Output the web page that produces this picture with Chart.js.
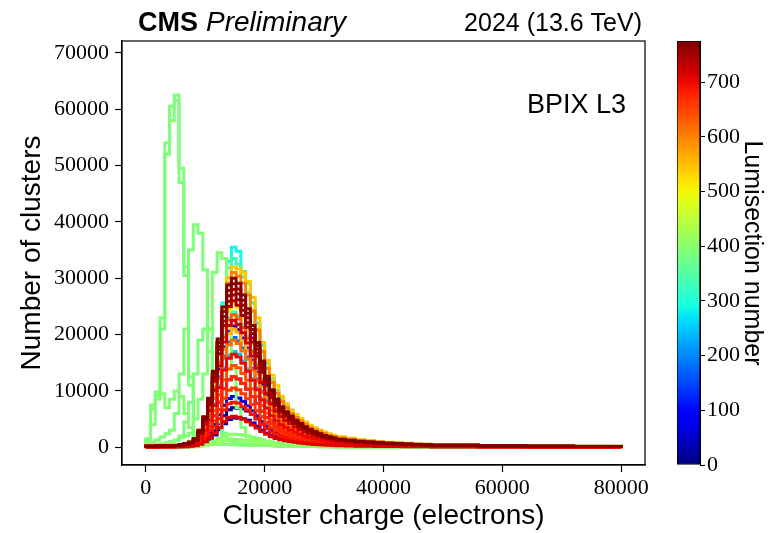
<!DOCTYPE html>
<html>
<head>
<meta charset="utf-8">
<script src="https://cdn.jsdelivr.net/npm/chart.js@4/dist/chart.umd.min.js"></script>
<style>
	html, body { margin: 0; padding: 0; background: #fff; }
	#wrap { position: relative; width: 771px; height: 533px; overflow: hidden; }
	#mainChart { position: absolute; left: 0; top: 0; width: 660px; height: 533px; }
	#cbarChart { position: absolute; left: 660px; top: 0; width: 111px; height: 533px; }
</style>
</head>
<body>
<div id="wrap">
	<canvas id="mainChart" width="660" height="533"></canvas>
	<canvas id="cbarChart" width="111" height="533"></canvas>
</div>
<script>
// bin edges of the cluster charge histograms (electrons)
const binEdges = [
	0, 800, 1600, 2400, 3200, 4000, 4800, 5600, 6400, 7200,
	8000, 8800, 9600, 10400, 11200, 12000, 12800, 13600, 14400, 15200,
	16000, 16800, 17600, 18400, 19200, 20000, 20800, 21600, 22400, 23200,
	24000, 24800, 25600, 26400, 27200, 28000, 28800, 29600, 30400, 31200,
	32000, 33600, 35200, 36800, 38400, 40000, 41600, 43200, 44800, 46400,
	48000, 56000, 64000, 72000, 80000,
];

// cluster counts per bin, one array per lumisection
const ls015 = [
	40, 40, 50, 50, 60, 60, 80, 100, 140, 210,
	340, 670, 1190, 1890, 2940, 4200, 5600, 6650, 7000, 6930,
	6790, 6440, 5810, 5040, 4060, 3360, 2800, 2380, 1960, 1680,
	1440, 1260, 1120, 980, 850, 760, 670, 600, 530, 470,
	410, 350, 300, 260, 220, 200, 180, 150, 130, 120,
	90, 60, 50, 40,
];
const ls040 = [
	30, 30, 40, 40, 40, 50, 60, 70, 100, 160,
	250, 490, 880, 1400, 2180, 3120, 4160, 4940, 5200, 5150,
	5040, 4780, 4320, 3740, 3020, 2500, 2080, 1770, 1460, 1250,
	1070, 940, 830, 730, 630, 560, 490, 440, 390, 350,
	300, 260, 220, 190, 170, 150, 130, 110, 100, 90,
	70, 50, 40, 30,
];
const ls060 = [
	50, 50, 60, 60, 70, 80, 100, 130, 180, 270,
	450, 900, 1620, 2610, 4050, 5760, 7470, 8640, 9000, 8730,
	8100, 7380, 6480, 5580, 4590, 3780, 3060, 2570, 2160, 1890,
	1670, 1440, 1260, 1100, 950, 830, 720, 630, 560, 500,
	430, 370, 320, 280, 240, 220, 190, 170, 150, 140,
	110, 70, 50, 45,
];
const ls095 = [
	130, 130, 150, 150, 170, 190, 240, 300, 430, 650,
	1080, 2150, 3900, 6200, 9700, 13800, 17800, 20600, 21500, 20900,
	19400, 17600, 15500, 13300, 11000, 9000, 7300, 6100, 5200, 4500,
	4000, 3400, 3000, 2600, 2300, 2000, 1720, 1500, 1330, 1180,
	1030, 880, 750, 670, 580, 520, 450, 410, 370, 320,
	260, 170, 130, 110,
];
const ls140 = [
	80, 80, 90, 90, 100, 110, 140, 180, 250, 380,
	630, 1250, 2250, 3600, 5600, 8000, 10400, 12000, 12500, 12100,
	11300, 10300, 9000, 7800, 6400, 5300, 4300, 3600, 3000, 2600,
	2300, 2000, 1750, 1530, 1310, 1150, 1000, 880, 780, 690,
	600, 510, 440, 390, 340, 300, 260, 240, 210, 190,
	150, 100, 75, 60,
];
const ls180 = [
	120, 120, 140, 140, 160, 180, 210, 270, 390, 590,
	980, 1950, 3510, 5660, 8780, 12500, 16200, 18700, 19500, 18900,
	17600, 16000, 14000, 12100, 9950, 8190, 6630, 5560, 4680, 4100,
	3610, 3120, 2730, 2380, 2050, 1790, 1560, 1370, 1210, 1070,
	940, 800, 680, 600, 530, 470, 410, 370, 330, 290,
	230, 160, 120, 100,
];
const ls250 = [
	100, 100, 120, 120, 140, 150, 190, 240, 340, 510,
	850, 1700, 3100, 4900, 7700, 10900, 14100, 16300, 17000, 16500,
	15300, 13900, 12200, 10500, 8700, 7100, 5800, 4800, 4100, 3600,
	3100, 2700, 2400, 2100, 1800, 1560, 1360, 1190, 1050, 940,
	820, 700, 600, 530, 460, 410, 360, 320, 290, 260,
	200, 140, 100, 85,
];
const ls285 = [
	210, 210, 250, 250, 280, 320, 390, 500, 710, 1070,
	1780, 2800, 4300, 7500, 12400, 18500, 25600, 33000, 35500, 34800,
	31200, 29100, 25600, 22000, 18100, 14900, 12100, 10100, 8500, 7500,
	6600, 5700, 5000, 4300, 3700, 3300, 2800, 2500, 2200, 1950,
	1700, 1460, 1240, 1100, 960, 850, 750, 670, 600, 530,
	430, 280, 210, 180,
];
const ls300 = [
	140, 140, 170, 170, 190, 220, 260, 340, 480, 720,
	1200, 2400, 4320, 6960, 10800, 15400, 19900, 23000, 24000, 23300,
	21600, 19700, 17300, 14900, 12200, 10100, 8160, 6840, 5760, 5040,
	4440, 3840, 3360, 2930, 2520, 2210, 1920, 1680, 1490, 1320,
	1150, 980, 840, 740, 650, 580, 500, 460, 410, 360,
	290, 190, 140, 120,
];
const ls330 = [
	200, 200, 230, 230, 270, 300, 370, 470, 670, 1000,
	1600, 2600, 4400, 7400, 12400, 18400, 25100, 31800, 33500, 32500,
	30200, 27500, 24100, 20800, 17100, 14100, 11400, 9500, 8000, 7000,
	6200, 5400, 4700, 4100, 3500, 3100, 2700, 2350, 2100, 1840,
	1610, 1370, 1170, 1040, 900, 800, 700, 640, 570, 500,
	400, 270, 200, 170,
];
const ls386 = [
	200, 300, 400, 500, 700, 900, 1200, 2000, 4500, 8000,
	13000, 19000, 21000, 17000, 10000, 5000, 2500, 1500, 1000, 800,
	650, 550, 480, 420, 370, 330, 300, 270, 240, 210,
	190, 170, 155, 140, 130, 120, 110, 100, 90, 80,
	72, 65, 58, 52, 47, 42, 38, 34, 30, 27,
	20, 14, 10, 8,
];
const ls388 = [
	1500, 7500, 9800, 23000, 54000, 58000, 62500, 49500, 32000, 11000,
	2100, 900, 700, 600, 550, 520, 500, 480, 460, 440,
	420, 400, 380, 360, 340, 320, 300, 280, 260, 240,
	220, 200, 185, 170, 160, 150, 140, 130, 120, 110,
	100, 92, 84, 76, 68, 60, 54, 48, 42, 36,
	26, 18, 12, 9,
];
const ls389 = [
	1200, 6800, 9200, 21000, 52000, 60500, 61500, 47000, 30500, 12500,
	2600, 1000, 750, 640, 580, 540, 510, 490, 470, 450,
	430, 410, 390, 370, 350, 330, 310, 290, 270, 250,
	230, 210, 195, 180, 165, 155, 145, 135, 125, 115,
	105, 96, 88, 80, 72, 64, 57, 50, 44, 38,
	28, 19, 13, 10,
];
const ls390 = [
	600, 900, 1300, 1800, 2400, 3000, 6000, 13000, 21000, 35000,
	39500, 38000, 31500, 21000, 11000, 4500, 2000, 1200, 900, 750,
	650, 580, 520, 470, 420, 380, 340, 310, 280, 250,
	230, 210, 190, 175, 160, 150, 140, 130, 120, 110,
	100, 92, 84, 76, 68, 60, 54, 48, 42, 36,
	26, 18, 12, 9,
];
const ls392 = [
	300, 400, 500, 650, 800, 1000, 1300, 1700, 2000, 2500,
	5000, 8500, 13000, 21000, 31000, 34500, 33500, 24000, 14000, 7000,
	3500, 2000, 1300, 1000, 850, 750, 650, 580, 520, 460,
	410, 370, 330, 300, 270, 240, 220, 200, 180, 160,
	145, 130, 118, 106, 95, 85, 75, 66, 58, 50,
	36, 24, 16, 12,
];
const ls394 = [
	500, 4000, 8500, 9500, 7000, 8500, 10000, 9000, 6000, 3500,
	2000, 1200, 900, 750, 650, 600, 560, 520, 480, 450,
	420, 390, 360, 330, 300, 280, 260, 240, 220, 200,
	185, 170, 155, 140, 130, 120, 110, 100, 90, 80,
	72, 65, 58, 52, 47, 42, 38, 34, 30, 27,
	20, 14, 10, 8,
];
const ls400 = [
	20, 20, 20, 20, 30, 30, 40, 50, 70, 100,
	160, 280, 480, 760, 1150, 1580, 1950, 2200, 2300, 2250,
	2120, 1960, 1760, 1550, 1320, 1120, 950, 810, 690, 600,
	530, 460, 410, 360, 320, 280, 250, 220, 190, 170,
	110, 94, 80, 71, 62, 55, 48, 44, 39, 35,
	28, 18, 14, 12,
];
const ls410 = [
	10, 10, 10, 10, 15, 15, 20, 25, 40, 60,
	100, 170, 290, 460, 700, 960, 1190, 1340, 1400, 1370,
	1290, 1190, 1070, 940, 800, 680, 580, 490, 420, 370,
	320, 280, 250, 220, 190, 170, 150, 130, 115, 100,
	67, 57, 49, 43, 38, 34, 29, 27, 24, 21,
	17, 11, 8, 7,
];
const ls520 = [
	150, 150, 180, 180, 200, 230, 280, 360, 510, 770,
	1280, 2550, 4600, 7400, 11500, 16300, 21200, 24500, 25500, 24700,
	23000, 20900, 18400, 15800, 13000, 10700, 8700, 7300, 6100, 5400,
	4700, 4100, 3600, 3100, 2700, 2350, 2040, 1790, 1580, 1400,
	1220, 1050, 890, 790, 690, 610, 540, 480, 430, 380,
	310, 200, 150, 130,
];
const ls540 = [
	190, 190, 220, 220, 260, 290, 350, 450, 640, 960,
	1540, 3040, 5400, 8600, 12800, 18600, 24600, 30100, 32000, 31700,
	31000, 29400, 26600, 23000, 18600, 15400, 12800, 10900, 9000, 7700,
	6600, 5800, 5100, 4500, 3900, 3460, 3040, 2720, 2400, 2140,
	1860, 1600, 1380, 1180, 1020, 900, 800, 700, 610, 540,
	420, 290, 220, 190,
];
const ls560 = [
	130, 130, 150, 150, 170, 190, 230, 290, 420, 630,
	1050, 2100, 3780, 6090, 9450, 13400, 17400, 20200, 21000, 20400,
	18900, 17200, 15100, 13000, 10700, 8820, 7140, 5990, 5040, 4410,
	3890, 3360, 2940, 2560, 2210, 1930, 1680, 1470, 1300, 1160,
	1010, 860, 740, 650, 570, 500, 440, 400, 360, 320,
	250, 170, 130, 105,
];
const ls600 = [
	190, 190, 220, 220, 250, 280, 340, 430, 620, 930,
	1490, 2950, 5300, 8400, 12700, 18300, 24200, 29100, 31000, 30400,
	29100, 27000, 24200, 20800, 17000, 14000, 11500, 9600, 8100, 7000,
	6000, 5300, 4650, 4060, 3500, 3100, 2730, 2420, 2100, 1890,
	1640, 1430, 1210, 1050, 930, 810, 710, 620, 560, 500,
	390, 260, 200, 170,
];
const ls615 = [
	110, 110, 130, 130, 150, 170, 210, 270, 380, 570,
	950, 1900, 3400, 5500, 8600, 12200, 15800, 18200, 19000, 18400,
	17100, 15600, 13700, 11800, 9700, 8000, 6500, 5400, 4600, 4000,
	3500, 3000, 2700, 2300, 2000, 1750, 1520, 1330, 1180, 1050,
	910, 780, 670, 590, 510, 460, 400, 360, 320, 290,
	230, 150, 110, 95,
];
const ls630 = [
	140, 140, 160, 160, 190, 210, 260, 330, 470, 710,
	1180, 2350, 4230, 6820, 10600, 15000, 19500, 22600, 23500, 22800,
	21200, 19300, 16900, 14600, 12000, 9870, 7990, 6700, 5640, 4940,
	4350, 3760, 3290, 2870, 2470, 2160, 1880, 1650, 1460, 1290,
	1130, 960, 820, 730, 630, 560, 490, 450, 400, 350,
	280, 190, 140, 120,
];
const ls640 = [
	90, 90, 100, 100, 120, 130, 160, 200, 290, 440,
	730, 1450, 2600, 4200, 6500, 9300, 12000, 13900, 14500, 14100,
	13100, 11900, 10400, 9000, 7400, 6100, 4900, 4100, 3500, 3000,
	2700, 2300, 2000, 1770, 1520, 1330, 1160, 1020, 900, 800,
	700, 590, 510, 450, 390, 350, 300, 280, 250, 220,
	170, 120, 90, 70,
];
const ls660 = [
	60, 60, 70, 70, 80, 90, 120, 150, 210, 320,
	530, 1050, 1900, 3000, 4700, 6700, 8700, 10100, 10500, 10200,
	9500, 8600, 7600, 6500, 5400, 4400, 3600, 3000, 2500, 2200,
	1940, 1680, 1470, 1280, 1100, 970, 840, 740, 650, 580,
	500, 430, 370, 330, 280, 250, 220, 200, 180, 160,
	130, 84, 63, 53,
];
const ls675 = [
	75, 75, 90, 90, 100, 110, 140, 180, 250, 380,
	630, 1250, 2250, 3630, 5630, 8000, 10400, 12000, 12500, 12100,
	11300, 10300, 9000, 7750, 6380, 5250, 4250, 3560, 3000, 2630,
	2310, 2000, 1750, 1530, 1310, 1150, 1000, 880, 780, 690,
	600, 510, 440, 390, 340, 300, 260, 240, 210, 190,
	150, 100, 75, 63,
];
const ls690 = [
	50, 50, 60, 60, 60, 70, 90, 110, 160, 240,
	400, 800, 1440, 2300, 3600, 5100, 6600, 7700, 8000, 7800,
	7200, 6600, 5800, 5000, 4100, 3400, 2700, 2300, 1900, 1700,
	1500, 1300, 1100, 980, 840, 740, 640, 560, 500, 440,
	380, 330, 280, 250, 220, 190, 170, 150, 140, 120,
	96, 64, 48, 40,
];
const ls700 = [
	100, 100, 120, 120, 130, 150, 180, 230, 330, 500,
	830, 1650, 3000, 4800, 7400, 10600, 13700, 15800, 16500, 16000,
	14900, 13500, 11900, 10200, 8400, 6900, 5600, 4700, 4000, 3500,
	3050, 2650, 2300, 2000, 1730, 1520, 1320, 1150, 1020, 910,
	790, 680, 580, 510, 450, 400, 350, 310, 280, 250,
	200, 130, 100, 83,
];
const ls710 = [
	33, 33, 39, 39, 44, 50, 61, 77, 110, 165,
	275, 550, 990, 1600, 2480, 3520, 4570, 5280, 5500, 5340,
	4950, 4510, 3960, 3410, 2810, 2310, 1870, 1570, 1320, 1160,
	1020, 880, 770, 670, 580, 510, 440, 390, 340, 300,
	260, 230, 190, 170, 150, 130, 120, 100, 94, 83,
	66, 44, 33, 28,
];
const ls720 = [
	140, 140, 160, 160, 180, 200, 250, 320, 450, 680,
	1130, 2250, 4100, 6500, 10100, 14400, 18700, 21600, 22500, 21800,
	20300, 18500, 16200, 14000, 11500, 9500, 7700, 6400, 5400, 4700,
	4200, 3600, 3150, 2750, 2400, 2100, 1800, 1600, 1400, 1240,
	1080, 920, 790, 700, 610, 540, 470, 430, 380, 340,
	270, 180, 135, 113,
];
const ls745 = [
	160, 160, 180, 180, 210, 230, 290, 360, 520, 780,
	1300, 2600, 4700, 7500, 11700, 16600, 21600, 25000, 26000, 25200,
	23400, 21300, 18700, 16100, 13300, 10900, 8800, 7400, 6200, 5500,
	4800, 4200, 3600, 3200, 2700, 2400, 2100, 1800, 1600, 1430,
	1250, 1070, 910, 810, 700, 620, 550, 490, 440, 390,
	310, 210, 156, 130,
];
const ls750 = [
	160, 160, 190, 190, 220, 240, 300, 380, 540, 810,
	1350, 2700, 4860, 7830, 12200, 17300, 22400, 25900, 27000, 26200,
	24300, 22100, 19400, 16700, 13800, 11300, 9180, 7700, 6480, 5670,
	5000, 4320, 3780, 3290, 2840, 2480, 2160, 1890, 1670, 1490,
	1300, 1110, 950, 840, 730, 650, 570, 510, 460, 410,
	320, 220, 160, 135,
];
const ls760 = [
	170, 170, 200, 200, 220, 250, 310, 390, 560, 840,
	1400, 2800, 5000, 8100, 12600, 17900, 23200, 26900, 28000, 27200,
	25200, 23000, 20200, 17400, 14300, 11800, 9500, 8000, 6700, 5900,
	5200, 4500, 3900, 3400, 2900, 2600, 2200, 2000, 1700, 1540,
	1340, 1150, 980, 870, 760, 670, 590, 530, 480, 420,
	340, 220, 170, 140,
];
const ls766 = [
	170, 170, 200, 200, 230, 260, 320, 410, 580, 870,
	1450, 2900, 5220, 8410, 13100, 18600, 24100, 27800, 29000, 28100,
	26100, 23800, 20900, 18000, 14800, 12200, 9860, 8270, 6960, 6090,
	5370, 4640, 4060, 3540, 3050, 2670, 2320, 2030, 1800, 1600,
	1390, 1190, 1020, 900, 780, 700, 610, 550, 490, 440,
	350, 230, 170, 145,
];
const ls772 = [
	180, 180, 210, 210, 240, 270, 330, 420, 600, 900,
	1500, 3000, 5400, 8700, 13500, 19200, 24900, 28800, 30000, 29100,
	27000, 24600, 21600, 18600, 15300, 12600, 10200, 8550, 7200, 6300,
	5550, 4800, 4200, 3660, 3150, 2760, 2400, 2100, 1860, 1650,
	1440, 1230, 1050, 930, 810, 720, 630, 570, 510, 450,
	360, 240, 180, 150,
];

const lumiSections = [
	15, 40, 60, 95, 140, 180, 250, 285, 300, 330,
	386, 388, 389, 390, 392, 394, 400, 410, 520, 540,
	560, 600, 615, 630, 640, 660, 675, 690, 700, 710,
	720, 745, 750, 760, 766, 772,
];
const histograms = [
	ls015, ls040, ls060, ls095, ls140, ls180, ls250, ls285, ls300, ls330,
	ls386, ls388, ls389, ls390, ls392, ls394, ls400, ls410, ls520, ls540,
	ls560, ls600, ls615, ls630, ls640, ls660, ls675, ls690, ls700, ls710,
	ls720, ls745, ls750, ls760, ls766, ls772,
];

// axis ticks
const xTicks = [ 0, 20000, 40000, 60000, 80000 ];
const yTicks = [ 0, 10000, 20000, 30000, 40000, 50000, 60000, 70000 ];
const lumiTicks = [ 0, 100, 200, 300, 400, 500, 600, 700 ];
const lumiMax = 775;

const sansFont = '"Liberation Sans", Arial, sans-serif';
const serifFont = '"Liberation Serif", "Times New Roman", serif';

// matplotlib 'jet' colormap
const jetSegments = {
	r: [ [ 0, 0 ], [ 0.35, 0 ], [ 0.66, 1 ], [ 0.89, 1 ], [ 1, 0.5 ] ],
	g: [ [ 0, 0 ], [ 0.125, 0 ], [ 0.375, 1 ], [ 0.64, 1 ], [ 0.91, 0 ], [ 1, 0 ] ],
	b: [ [ 0, 0.5 ], [ 0.11, 1 ], [ 0.34, 1 ], [ 0.65, 0 ], [ 1, 0 ] ],
};

let interpSegment = (seg, t) => {
	for (let i = 1; i < seg.length; i++) {
		if (t <= seg[i][0]) {
			let [ x0, y0 ] = seg[i - 1];
			let [ x1, y1 ] = seg[i];
			return y0 + (y1 - y0) * (t - x0) / (x1 - x0);
		}
	}
	return seg[seg.length - 1][1];
};

let jet = (t) => {
	t = Math.min(1, Math.max(0, t));
	let r = Math.round(255 * interpSegment(jetSegments.r, t));
	let g = Math.round(255 * interpSegment(jetSegments.g, t));
	let b = Math.round(255 * interpSegment(jetSegments.b, t));
	return `rgb(${r}, ${g}, ${b})`;
};

// outline points of a step histogram
let toStepPoints = (counts) => {
	let last = binEdges[binEdges.length - 1];
	let points = [ { x: binEdges[0], y: 0 } ];
	counts.forEach((c, i) => points.push({ x: binEdges[i], y: c }));
	points.push({ x: last, y: counts[counts.length - 1] });
	points.push({ x: last, y: 0 });
	return points;
};

// frame and CMS labels
let cmsLabels = {
	id: 'cmsLabels',
	afterDatasetsDraw (chart) {
		let { ctx, chartArea } = chart;
		ctx.save();
		ctx.strokeStyle = '#000';
		ctx.lineWidth = 1.2;
		ctx.strokeRect(chartArea.left, chartArea.top, chartArea.right - chartArea.left, chartArea.bottom - chartArea.top);

		ctx.fillStyle = '#000';
		ctx.textBaseline = 'alphabetic';
		ctx.textAlign = 'left';
		ctx.font = `bold 27px ${sansFont}`;
		ctx.fillText('CMS', chartArea.left + 16, 31);
		ctx.font = `italic 28px ${sansFont}`;
		ctx.fillText('Preliminary', chartArea.left + 84, 31);

		ctx.textAlign = 'right';
		ctx.font = `25px ${sansFont}`;
		ctx.fillText('2024 (13.6 TeV)', chartArea.right - 3, 31);
		ctx.font = `27px ${sansFont}`;
		ctx.fillText('BPIX L3', chartArea.right - 19, 113);
		ctx.restore();
	},
};

let mainEl = document.getElementById('mainChart');
new Chart(mainEl, {
	type: 'line',
	data: {
		datasets: histograms.map((counts, i) => ({
			data: toStepPoints(counts),
			borderColor: jet(lumiSections[i] / lumiMax),
			borderWidth: 3,
			stepped: true,
			pointRadius: 0,
			fill: false,
			order: -lumiSections[i],
		})),
	},
	options: {
		responsive: false,
		animation: false,
		events: [],
		layout: { padding: { left: 0, top: 41, right: 15, bottom: 0 } },
		plugins: {
			legend: { display: false },
			tooltip: { enabled: false },
		},
		scales: {
			x: {
				type: 'linear',
				min: -4000,
				max: 84000,
				afterBuildTicks: (scale) => { scale.ticks = xTicks.map(v => ({ value: v })); },
				afterFit: (scale) => { scale.height = 68; },
				ticks: {
					callback: v => String(v),
					font: { family: serifFont, size: 22 },
					color: '#000',
					padding: 3,
					maxRotation: 0,
					autoSkip: false,
				},
				grid: { drawOnChartArea: false, drawTicks: true, tickLength: 7, tickColor: '#000', color: '#000', tickWidth: 1.2 },
				border: { display: true, color: '#000', width: 1.2 },
				title: {
					display: true,
					text: 'Cluster charge (electrons)',
					font: { family: sansFont, size: 28 },
					color: '#000',
					padding: { top: 0, bottom: 0 },
				},
			},
			y: {
				type: 'linear',
				min: -3150,
				max: 72100,
				afterBuildTicks: (scale) => { scale.ticks = yTicks.map(v => ({ value: v })); },
				afterFit: (scale) => { scale.width = 122; },
				ticks: {
					callback: v => String(v),
					font: { family: serifFont, size: 22 },
					color: '#000',
					padding: 6,
					autoSkip: false,
				},
				grid: { drawOnChartArea: false, drawTicks: true, tickLength: 7, tickColor: '#000', color: '#000', tickWidth: 1.2 },
				border: { display: true, color: '#000', width: 1.2 },
				title: {
					display: true,
					text: 'Number of clusters',
					font: { family: sansFont, size: 28 },
					color: '#000',
					padding: { top: 15, bottom: 0 },
				},
			},
		},
	},
	plugins: [ cmsLabels ],
});

// colorbar gradient along the lumisection axis
let jetGradient = (chart) => {
	let { ctx, chartArea, scales } = chart;
	if (!chartArea) { return null; }
	let y0 = scales.y.getPixelForValue(0);
	let y1 = scales.y.getPixelForValue(lumiMax);
	let gradient = ctx.createLinearGradient(0, y0, 0, y1);
	for (let i = 0; i <= 40; i++) {
		gradient.addColorStop(i / 40, jet(i / 40));
	}
	return gradient;
};

let cbarEl = document.getElementById('cbarChart');
new Chart(cbarEl, {
	type: 'bar',
	data: {
		labels: [ '' ],
		datasets: [ {
			data: [ [ 0, lumiMax ] ],
			backgroundColor: ctx => jetGradient(ctx.chart),
			borderColor: '#000',
			borderWidth: 1,
			borderSkipped: false,
			barPercentage: 1,
			categoryPercentage: 1,
		} ],
	},
	options: {
		responsive: false,
		animation: false,
		events: [],
		layout: { padding: { left: 17, top: 41, right: 0, bottom: 68 } },
		plugins: {
			legend: { display: false },
			tooltip: { enabled: false },
		},
		scales: {
			x: { display: false },
			y: {
				position: 'right',
				min: 0,
				max: lumiMax,
				afterBuildTicks: (scale) => { scale.ticks = lumiTicks.map(v => ({ value: v })); },
				afterFit: (scale) => { scale.width = 71; },
				ticks: {
					callback: v => String(v),
					font: { family: serifFont, size: 22 },
					color: '#000',
					padding: 2,
					autoSkip: false,
				},
				grid: { drawOnChartArea: false, drawTicks: true, tickLength: 5, tickColor: '#000', color: '#000' },
				border: { display: true, color: '#000', width: 1 },
				title: {
					display: true,
					text: 'Lumisection number',
					font: { family: sansFont, size: 25 },
					color: '#000',
					padding: { top: 4, bottom: 0 },
				},
			},
		},
	},
});
</script>
</body>
</html>
